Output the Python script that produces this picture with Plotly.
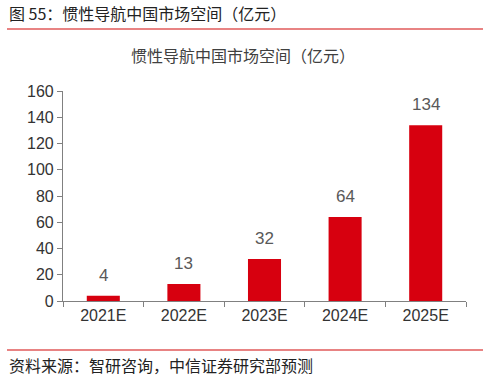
import plotly.graph_objects as go

categories = ["2021E", "2022E", "2023E", "2024E", "2025E"]
values = [4, 13, 32, 64, 134]
y_ticks = [0, 20, 40, 60, 80, 100, 120, 140, 160]

W, H = 489, 381
L, R, T, B = 63, 489 - 466, 91, 381 - 301
pw, ph = W - L - R, H - T - B

def px(x):
    return (x - L) / pw

def py(y):
    return (H - B - y) / ph

FONT = "Liberation Sans, Arial, Noto Sans CJK SC, sans-serif"
CJK = "Noto Sans CJK SC, sans-serif"

fig = go.Figure()
fig.add_trace(go.Bar(
    x=categories, y=values,
    marker=dict(color="#d7000f", line=dict(width=0)),
    width=0.41,
    hoverinfo="skip",
))

annotations = []
for c, v in zip(categories, values):
    annotations.append(dict(
        x=c, y=v, xref="x", yref="y", text=str(v), showarrow=False,
        yanchor="bottom", yshift=9,
        font=dict(family=FONT, size=17, color="#595959"),
    ))

annotations += [
    dict(x=px(7), y=py(13), xref="paper", yref="paper", xanchor="left", yanchor="middle",
         text="图 55：惯性导航中国市场空间（亿元）", showarrow=False,
         font=dict(family=CJK, size=16, color="#222222")),
    dict(x=px(243), y=py(55), xref="paper", yref="paper", xanchor="center", yanchor="middle",
         text="惯性导航中国市场空间（亿元）", showarrow=False,
         font=dict(family=CJK, size=16, color="#404040")),
    dict(x=px(7), y=py(365), xref="paper", yref="paper", xanchor="left", yanchor="middle",
         text="资料来源：智研咨询，中信证券研究部预测", showarrow=False,
         font=dict(family=CJK, size=16, color="#222222")),
]

shapes = [
    dict(type="line", xref="paper", yref="paper", x0=px(7), x1=px(483), y0=py(29), y1=py(29),
         line=dict(color="#e05a5a", width=1.5)),
    dict(type="line", xref="paper", yref="paper", x0=px(7), x1=px(483), y0=py(350), y1=py(350),
         line=dict(color="#e05a5a", width=1.5)),
]

fig.update_layout(
    width=W, height=H,
    margin=dict(l=L, r=R, t=T, b=B, pad=0),
    paper_bgcolor="white", plot_bgcolor="white",
    showlegend=False,
    annotations=annotations,
    shapes=shapes,
    bargap=0.59,
)
fig.update_xaxes(
    type="category", tickson="boundaries",
    showline=True, linecolor="#808080", linewidth=1.2,
    ticks="outside", ticklen=5, tickcolor="#808080",
    showgrid=False, zeroline=False,
    tickfont=dict(family=FONT, size=16, color="#333333"),
)
fig.update_yaxes(
    range=[0, 160], tickvals=y_ticks,
    showline=True, linecolor="#808080", linewidth=1.2,
    ticks="outside", ticklen=5, tickcolor="#808080",
    showgrid=False, zeroline=False,
    tickfont=dict(family=FONT, size=16, color="#333333"),
)

fig.write_html("out.html")
